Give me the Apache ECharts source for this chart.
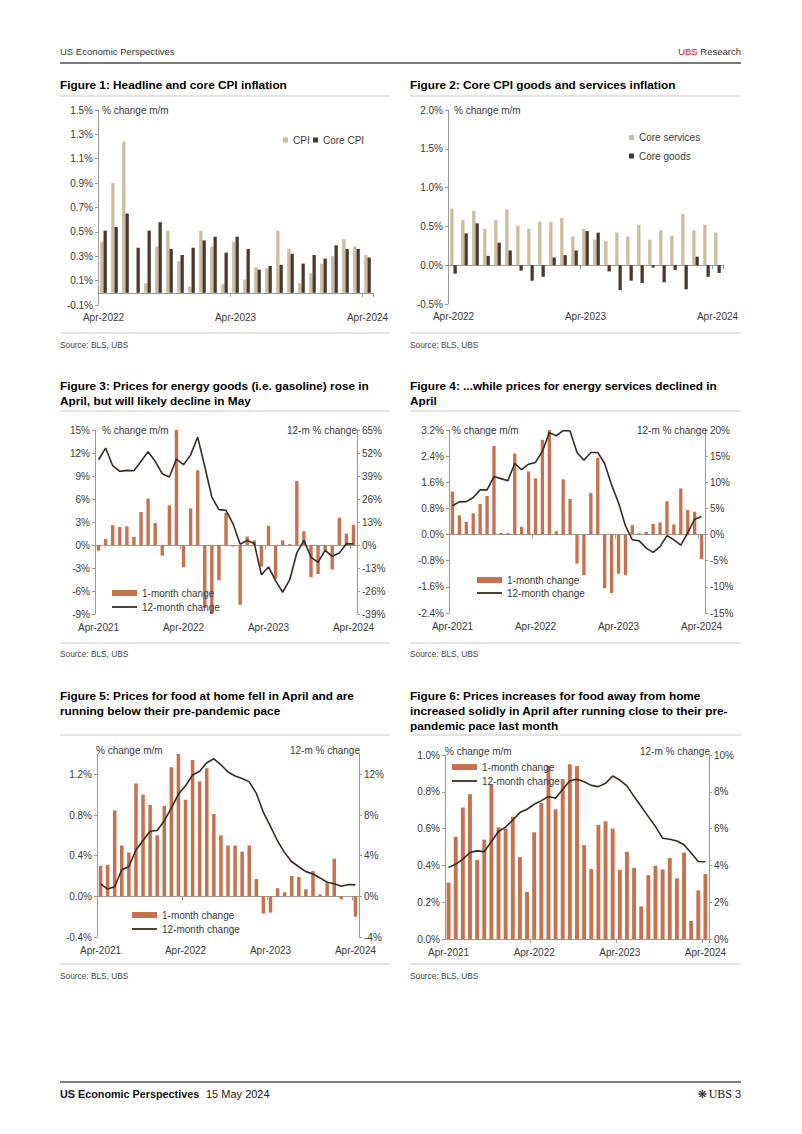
<!DOCTYPE html>
<html><head><meta charset="utf-8">
<script src="https://cdn.jsdelivr.net/npm/echarts@6/dist/echarts.min.js"></script>
<style>html,body{margin:0;padding:0;background:#fff}#c{width:802px;height:1134px}</style>
</head><body><div id="c"></div><script>
// ---------- DATA ----------
const months25 = ['Apr-2022','May-2022','Jun-2022','Jul-2022','Aug-2022','Sep-2022','Oct-2022','Nov-2022','Dec-2022','Jan-2023','Feb-2023','Mar-2023','Apr-2023','May-2023','Jun-2023','Jul-2023','Aug-2023','Sep-2023','Oct-2023','Nov-2023','Dec-2023','Jan-2024','Feb-2024','Mar-2024','Apr-2024'];
const months37 = ['Apr-2021','May-2021','Jun-2021','Jul-2021','Aug-2021','Sep-2021','Oct-2021','Nov-2021','Dec-2021','Jan-2022','Feb-2022','Mar-2022','Apr-2022','May-2022','Jun-2022','Jul-2022','Aug-2022','Sep-2022','Oct-2022','Nov-2022','Dec-2022','Jan-2023','Feb-2023','Mar-2023','Apr-2023','May-2023','Jun-2023','Jul-2023','Aug-2023','Sep-2023','Oct-2023','Nov-2023','Dec-2023','Jan-2024','Feb-2024','Mar-2024','Apr-2024'];

// Figure 1
const cpi     = [0.42,0.90,1.24,0.00,0.08,0.38,0.51,0.26,0.05,0.51,0.38,0.07,0.42,0.11,0.21,0.20,0.51,0.36,0.08,0.16,0.24,0.30,0.44,0.38,0.31];
const coreCpi = [0.51,0.54,0.65,0.37,0.51,0.58,0.36,0.31,0.37,0.43,0.46,0.33,0.46,0.36,0.19,0.22,0.23,0.32,0.24,0.31,0.28,0.39,0.36,0.36,0.29];
// Figure 2
const coreServices = [0.73,0.58,0.70,0.47,0.58,0.72,0.51,0.47,0.56,0.56,0.61,0.37,0.47,0.33,0.31,0.42,0.37,0.52,0.33,0.45,0.38,0.66,0.45,0.52,0.42];
const coreGoods    = [-0.11,0.41,0.54,0.12,0.29,0.19,-0.07,-0.20,-0.15,0.10,0.13,0.19,0.44,0.42,-0.08,-0.32,-0.20,-0.23,-0.03,-0.22,-0.06,-0.31,0.11,-0.15,-0.10];
// Figure 3 energy goods
const energyGoodsMoM = [-0.74,0.78,2.6,2.35,2.43,1.04,4.3,6.04,2.87,-1.39,5.17,15.0,-2.9,4.78,9.74,-8.2,-9.2,-4.6,4.2,-0.2,-7.8,1.1,0.6,-2.8,2.5,-4.4,0.6,0.1,8.35,1.8,-4.2,-3.8,-0.7,-3.2,3.57,1.48,2.65];
const energyGoodsYoY = [48.2,54.8,44.8,41.6,42.2,42.0,47.3,52.7,47.3,40.3,38.4,48.6,45.4,50.8,61.0,44.4,27.1,20.0,19.6,12.0,0.4,2.6,0.8,-16.8,-12.4,-20.1,-26.7,-19.6,-4.5,2.6,-6.8,-9.8,-3.0,-6.4,-4.5,0.75,0.6];
// Figure 4 energy services
const energyServMoM = [1.32,0.59,0.39,0.65,0.94,1.18,2.71,0.05,0.05,2.48,0.24,1.93,1.72,2.9,3.22,0.1,1.69,1.09,-0.89,-1.24,1.27,2.35,-1.64,-1.79,-1.2,-1.24,0.29,0.04,0.08,0.33,0.37,1.02,0.31,1.41,0.75,0.7,-0.75];
const energyServYoY = [5.5,6.26,6.3,7.1,8.55,8.55,11.1,10.7,10.3,13.6,12.4,13.45,13.8,15.9,19.5,18.9,19.9,19.8,15.7,14.2,15.7,15.7,13.6,9.5,6.1,1.7,-1.0,-1.2,-2.6,-3.4,-2.3,-0.2,-1.0,-2.0,0.3,2.95,3.45];
// Figure 5 food at home
const foodHomeMoM = [0.30,0.31,0.845,0.50,0.43,1.11,1.0,0.9,0.6,0.89,1.27,1.40,0.95,1.34,1.13,1.26,0.81,0.6,0.5,0.5,0.44,0.5,0.17,-0.17,-0.16,0.08,0.04,0.2,0.19,0.07,0.25,0.02,0.13,0.37,-0.03,0.0,-0.2];
const foodHomeYoY = [1.23,0.71,0.94,2.62,2.94,4.56,5.5,6.4,6.47,7.44,8.67,10.06,10.87,11.94,12.3,13.14,13.53,12.94,12.23,11.84,11.59,11.26,10.13,8.25,6.89,5.44,4.3,3.4,2.91,2.43,2.2,1.81,1.39,1.23,1.0,1.17,1.13];
// Figure 6 food away from home
const foodAwayMoM = [0.307,0.555,0.714,0.787,0.43,0.54,0.84,0.607,0.60,0.665,0.445,0.255,0.58,0.74,0.94,0.705,0.87,0.95,0.94,0.51,0.38,0.62,0.64,0.60,0.376,0.474,0.387,0.177,0.347,0.398,0.378,0.44,0.33,0.47,0.098,0.264,0.353];
const foodAwayYoY = [3.89,4.07,4.34,4.7,4.79,4.75,5.3,5.84,6.08,6.47,6.87,7.05,7.32,7.52,7.74,7.65,8.14,8.6,8.68,8.55,8.35,8.28,8.46,8.86,8.64,8.32,7.74,7.2,6.65,6.11,5.48,5.42,5.33,5.12,4.67,4.21,4.2];

// tick labels
const ticks1  = [-0.1,0.1,0.3,0.5,0.7,0.9,1.1,1.3,1.5];
const ticks2  = [-0.5,0,0.5,1.0,1.5,2.0];
const ticks3L = [-9,-6,-3,0,3,6,9,12,15];
const ticks3R = [-39,-26,-13,0,13,26,39,52,65];
const ticks4L = [-2.4,-1.6,-0.8,0,0.8,1.6,2.4,3.2];
const ticks4R = [-15,-10,-5,0,5,10,15,20];
const ticks5L = [-0.4,0,0.4,0.8,1.2];
const ticks5R = [-4,0,4,8,12];
const ticks6L = [0,0.2,0.4,0.6,0.8,1.0];
const ticks6R = [0,2,4,6,8,10];

// ---------- STYLE ----------
const FF = '"Liberation Sans", Arial, sans-serif';
const TXT = '#3a3a3a';
const AX = '#9a9a9a';
const TAN = '#cbbd9e';
const DARK = '#4a382d';
const ORANGE = '#c8714f';
const LINE = '#3b2a21';

const option = {animation:false, grid:[], xAxis:[], yAxis:[], series:[], legend:[], graphic:[]};

function fmt(v, dec){ if (Math.abs(v) < 1e-9) v = 0; return v.toFixed(dec) + '%'; }
function yAxis(gi, pos, c){
  const a = {type:'value', gridIndex:gi, position:pos, min:c.min, max:c.max, splitLine:{show:false},
    axisLine:{show:true, onZero:false, lineStyle:{color:AX, width:1}},
    axisTick:{show:true, length:3, customValues:c.ticks, lineStyle:{color:AX}},
    axisLabel:{customValues:c.ticks, formatter:(v)=>fmt(v,c.dec), margin:5, color:TXT, fontSize:10, fontFamily:FF}};
  if (c.interval) a.interval = c.interval;
  return a;
}
function addChart(cfg){
  const gi = option.grid.length;
  option.grid.push({left:cfg.grid[0], top:cfg.grid[1], width:cfg.grid[2], height:cfg.grid[3], containLabel:false});
  const xb = option.xAxis.length;
  option.xAxis.push({type:'category', gridIndex:gi, data:cfg.cats, position:'bottom', boundaryGap:true,
    axisLine:{show:false, onZero:false}, axisTick:{show:false},
    axisLabel:{interval:(i)=>i%12===0, margin:cfg.xMargin, color:TXT, fontSize:10, fontFamily:FF}});
  option.xAxis.push({type:'category', gridIndex:gi, data:cfg.cats, position:'top', boundaryGap:true,
    axisLine:{show:true, onZero:true, lineStyle:{color:AX, width:1}},
    axisTick:{show:true, inside:true, length:4, interval:(i)=>i>0 && i%12===0, lineStyle:{color:AX}},
    axisLabel:{show:false}});
  const yl = option.yAxis.length;
  option.yAxis.push(yAxis(gi, 'left', cfg.yl));
  let yr = yl;
  if (cfg.yr){ yr = option.yAxis.length; option.yAxis.push(yAxis(gi, 'right', cfg.yr)); }
  cfg.series.forEach(s=>{
    const o = Object.assign({xAxisIndex:xb, yAxisIndex: s.right ? yr : yl, silent:true}, s.opt);
    option.series.push(o);
  });
}
function barS(name, data, color, extra){ return {opt:Object.assign({type:'bar', name, data, itemStyle:{color}, z:2}, extra||{})}; }
function lineS(name, data){ return {right:true, opt:{type:'line', name, data, symbol:'none', showSymbol:false, lineStyle:{color:LINE, width:1.6}, itemStyle:{color:LINE}, z:3}}; }

// Figure 1
addChart({grid:[98,110,275,195], cats:months25, xMargin:7,
  yl:{min:-0.1, max:1.5, ticks:ticks1, dec:1},
  series:[barS('CPI', cpi, TAN, {barGap:'0%', barCategoryGap:'40%'}), barS('Core CPI', coreCpi, DARK, {barGap:'0%', barCategoryGap:'40%'})]});
// Figure 2
addChart({grid:[448,110,275,194], cats:months25, xMargin:7,
  yl:{min:-0.5, max:2.0, interval:0.5, ticks:ticks2, dec:1},
  series:[barS('Core services', coreServices, TAN, {barGap:'0%', barCategoryGap:'40%'}), barS('Core goods', coreGoods, DARK, {barGap:'0%', barCategoryGap:'40%'})]});
// Figure 3
addChart({grid:[95,430,262,184], cats:months37, xMargin:8,
  yl:{min:-9, max:15, interval:3, ticks:ticks3L, dec:0},
  yr:{min:-39, max:65, interval:13, ticks:ticks3R, dec:0},
  series:[barS('1-month change', energyGoodsMoM, ORANGE, {barWidth:'48%'}), lineS('12-month change', energyGoodsYoY)]});
// Figure 4
addChart({grid:[449,430,256,183], cats:months37, xMargin:8,
  yl:{min:-2.4, max:3.2, interval:0.8, ticks:ticks4L, dec:1},
  yr:{min:-15, max:20, interval:5, ticks:ticks4R, dec:0},
  series:[barS('1-month change', energyServMoM, ORANGE, {barWidth:'48%'}), lineS('12-month change', energyServYoY)]});
// Figure 5
addChart({grid:[97,754,262,183], cats:months37, xMargin:8,
  yl:{min:-0.4, max:1.4, ticks:ticks5L, dec:1},
  yr:{min:-4, max:14, ticks:ticks5R, dec:0},
  series:[barS('1-month change', foodHomeMoM, ORANGE, {barWidth:'50%'}), lineS('12-month change', foodHomeYoY)]});
// Figure 6
addChart({grid:[445,755,264,184], cats:months37, xMargin:8,
  yl:{min:0, max:1.0, interval:0.2, ticks:ticks6L, dec:1},
  yr:{min:0, max:10, interval:2, ticks:ticks6R, dec:0},
  series:[barS('1-month change', foodAwayMoM, ORANGE, {barWidth:'55%'}), lineS('12-month change', foodAwayYoY)]});

// legends
const LTS = {fontSize:10, color:TXT, fontFamily:FF, lineHeight:12};
function leg(name, left, cy){
  option.legend.push({data:[{name, icon:'rect'}], left, top:cy-6, padding:0, itemWidth:5, itemHeight:5, itemGap:0, selectedMode:false, textStyle:LTS});
}
leg('CPI', 283, 140); leg('Core CPI', 313, 140);
leg('Core services', 629, 137.5); leg('Core goods', 629, 156);
function leg2(left, cy1, cy2){
  option.legend.push({data:[{name:'1-month change', icon:'rect'}], left, top:cy1-6, padding:0, itemWidth:25, itemHeight:6, selectedMode:false, textStyle:LTS});
  option.legend.push({data:[{name:'12-month change', icon:'rect', itemStyle:{color:LINE}}], left, top:cy2-6, padding:0, itemWidth:25, itemHeight:1.8, selectedMode:false, textStyle:LTS});
}
leg2(112, 593, 607); leg2(477, 580, 593); leg2(132, 915, 929); leg2(452, 767, 781);

// ---------- PAGE TEXT ----------
function txt(x, y, text, font, fill, align){ return {type:'text', x, y, silent:true, z:10, style:{text, font, fill:fill||'#000', align:align||'left', verticalAlign:'middle'}}; }
function hl(x1, x2, y, color, w){ return {type:'line', silent:true, shape:{x1, y1:y, x2, y2:y}, style:{stroke:color, lineWidth:w}}; }
const TF = 'bold 11.8px ' + FF;
const SF = '8.3px ' + FF;
const AF = '10px ' + FF;
const g = option.graphic;
g.push(txt(60, 51, 'US Economic Perspectives', '9.5px ' + FF, '#333'));
g.push({type:'text', x:741, y:51, silent:true, style:{text:'{r|UBS} Research', font:'9.5px ' + FF, fill:'#333', align:'right', verticalAlign:'middle', rich:{r:{fill:'#e60000', font:'9.5px ' + FF}}}});
g.push(hl(60, 741, 63, '#7a7a7a', 2));
// titles
g.push(txt(60, 85, 'Figure 1: Headline and core CPI inflation', TF));
g.push(txt(410, 85, 'Figure 2: Core CPI goods and services inflation', TF));
g.push(txt(60, 386, 'Figure 3: Prices for energy goods (i.e. gasoline) rose in', TF));
g.push(txt(60, 401, 'April, but will likely decline in May', TF));
g.push(txt(410, 386, 'Figure 4: ...while prices for energy services declined in', TF));
g.push(txt(410, 401, 'April', TF));
g.push(txt(60, 695.5, 'Figure 5: Prices for food at home fell in April and are', TF));
g.push(txt(60, 710.5, 'running below their pre-pandemic pace', TF));
g.push(txt(410, 695.5, 'Figure 6: Prices increases for food away from home', TF));
g.push(txt(410, 710.5, 'increased solidly in April after running close to their pre-', TF));
g.push(txt(410, 725.5, 'pandemic pace last month', TF));
// separator lines
[96, 333, 411, 643, 735, 964].forEach((y)=>{ g.push(hl(60, 390, y, '#e4e4e4', 2)); g.push(hl(410, 741, y, '#e4e4e4', 2)); });
// sources
[345, 654, 976].forEach((y)=>{ g.push(txt(60, y, 'Source: BLS, UBS', SF, '#444')); g.push(txt(410, y, 'Source: BLS, UBS', SF, '#444')); });
// axis headers
g.push(txt(102, 110, '% change m/m', AF, TXT));
g.push(txt(454, 110, '% change m/m', AF, TXT));
g.push(txt(102, 430, '% change m/m', AF, TXT));
g.push(txt(357, 430, '12-m % change', AF, TXT, 'right'));
g.push(txt(452, 430, '% change m/m', AF, TXT));
g.push(txt(707, 430, '12-m % change', AF, TXT, 'right'));
g.push(txt(96, 750, '% change m/m', AF, TXT));
g.push(txt(360, 750, '12-m % change', AF, TXT, 'right'));
g.push(txt(445, 751, '% change m/m', AF, TXT));
g.push(txt(710, 751, '12-m % change', AF, TXT, 'right'));
// footer
g.push(hl(60, 741, 1082, '#555', 1.5));
g.push(txt(60, 1094, 'US Economic Perspectives', 'bold 10.8px ' + FF, '#111'));
g.push(txt(206, 1094, '15 May 2024', '11px ' + FF, '#222'));
g.push(txt(707, 1094, '\u274B', '11px "DejaVu Sans"', '#222', 'right'));
g.push(txt(732, 1094, 'UBS', '12px "Liberation Serif"', '#111', 'right'));
g.push(txt(741, 1094, '3', '11px ' + FF, '#222', 'right'));

const chart = echarts.init(document.getElementById('c'), null, {renderer:'svg', width:802, height:1134});
chart.setOption(option);
</script></body></html>
